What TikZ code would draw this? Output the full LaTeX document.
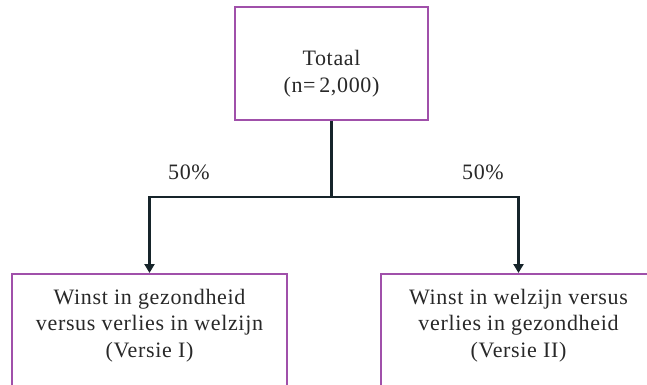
\documentclass[tikz,border=0pt]{standalone}
\usepackage{fontspec}
\setmainfont{Liberation Serif}[LetterSpace=3]
\usetikzlibrary{arrows.meta}
\definecolor{boxc}{RGB}{160,80,170}
\definecolor{linec}{RGB}{22,36,42}
\definecolor{txtc}{RGB}{40,40,40}
\tikzset{
  box/.style={draw=boxc, line width=1.6pt, fill=white, inner sep=0pt},
  txt/.style={text=txtc, font=\fontsize{22}{26.5}\selectfont, align=center, inner sep=0pt},
  arr/.style={draw=linec, line width=2.6pt, -{Triangle[width=10pt,length=9pt]}},
  conn/.style={draw=linec, line width=2.6pt},
}
\begin{document}
\begin{tikzpicture}[x=1pt,y=-1pt]
\useasboundingbox (0,0) rectangle (647,384);
\clip (0,0) rectangle (647,384);
\fill[white] (0,0) rectangle (647,384);
\node[box, minimum width=193pt, minimum height=113pt] (t) at (331.5,63.5) {};
\node[txt] (tt) at (331.5,73.5) {Totaal\\(n=\,2,000)};
\node[box, minimum width=275pt, minimum height=160pt, anchor=north] (l) at (149.5,273) {};
\node[box, minimum width=275pt, minimum height=160pt, anchor=north] (r) at (518.5,273) {};
\node[txt, anchor=north] (lt) at (149.5,289) {Winst in gezondheid\\versus verlies in welzijn\\(Versie I)};
\node[txt, anchor=north] (rt) at (518.5,289) {Winst in welzijn versus\\verlies in gezondheid\\(Versie II)};
\coordinate (j) at (331.5,197);
\draw[conn] (t.south) -- (j);
\draw[arr] (j) -| (l.north);
\draw[arr] (j) -| (r.north);
\node[txt] (p1) at (189,172) {50\%};
\node[txt] (p2) at (483,172) {50\%};
\end{tikzpicture}
\end{document}
